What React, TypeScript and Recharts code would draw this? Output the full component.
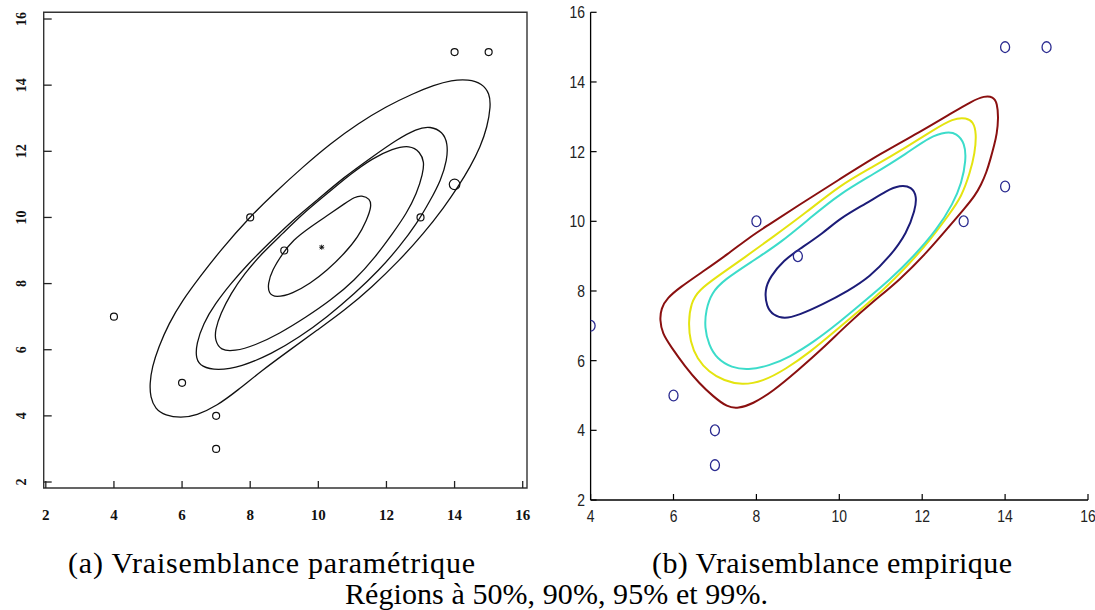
import React from 'react';
import { ComposedChart, Line, Scatter, XAxis, YAxis, ReferenceArea } from 'recharts';

// ---------- data ----------
const obsX = [4, 6, 7, 7, 8, 9, 13, 14, 14, 15];
const obsY = [7, 5, 4, 3, 10, 9, 10, 11, 15, 15];
const meanX = [10.1];
const meanY = [9.1];

const leftXTicks = [2, 4, 6, 8, 10, 12, 14, 16];
const leftYTicks = [2, 4, 6, 8, 10, 12, 14, 16];
const rightXTicks = [4, 6, 8, 10, 12, 14, 16];
const rightYTicks = [2, 4, 6, 8, 10, 12, 14, 16];

// (a) parametric likelihood regions 50/90/95/99 %
const param50: number[][] = [[11.27,10.67],[11.52,10.57],[11.56,10.32],[11.42,9.92],[11.17,9.41],[10.77,8.91],[10.26,8.40],[9.76,8.00],[9.25,7.70],[8.74,7.57],[8.54,7.70],[8.52,8.00],[8.64,8.40],[8.95,8.91],[9.25,9.31],[9.76,9.71],[10.36,10.12],[10.77,10.42],[11.07,10.62]];
const param90: number[][] = [[12.18,12.08],[12.69,12.19],[12.99,11.98],[13.11,11.68],[13.07,11.33],[12.89,10.72],[12.59,10.12],[12.18,9.51],[11.68,8.81],[11.07,8.10],[10.36,7.49],[9.65,6.99],[8.85,6.48],[8.14,6.13],[7.53,5.95],[7.13,5.98],[6.97,6.28],[6.97,6.59],[7.13,7.09],[7.43,7.70],[7.83,8.30],[8.34,8.91],[8.95,9.51],[9.55,10.12],[10.26,10.72],[10.97,11.33],[11.58,11.78]];
const param95: number[][] = [[12.89,12.69],[13.29,12.76],[13.65,12.59],[13.80,12.24],[13.78,11.73],[13.60,11.13],[13.29,10.52],[12.89,9.81],[12.38,9.11],[11.78,8.40],[11.07,7.70],[10.26,6.99],[9.45,6.38],[8.64,5.88],[7.73,5.48],[7.03,5.37],[6.57,5.48],[6.40,5.73],[6.42,6.18],[6.62,6.79],[6.97,7.39],[7.43,8.00],[7.94,8.60],[8.54,9.21],[9.25,9.92],[9.96,10.52],[10.77,11.23],[11.58,11.83],[12.28,12.34]];
const param99: number[][] = [[14.41,14.18],[14.81,14.05],[15.03,13.75],[15.06,13.35],[14.96,12.74],[14.76,12.14],[14.46,11.53],[14.10,10.92],[13.70,10.32],[13.09,9.51],[12.38,8.70],[11.58,7.90],[10.77,7.19],[9.96,6.59],[9.15,5.98],[8.34,5.37],[7.63,4.77],[7.03,4.31],[6.42,4.01],[5.96,3.94],[5.51,4.01],[5.21,4.21],[5.07,4.57],[5.05,4.97],[5.12,5.48],[5.31,6.08],[5.61,6.79],[6.01,7.49],[6.52,8.20],[7.13,9.01],[7.99,10.02],[8.74,10.77],[9.55,11.53],[10.36,12.24],[11.17,12.84],[11.98,13.35],[12.79,13.75],[13.40,14.00],[13.90,14.15]];

// (b) empirical likelihood regions 50/90/95/99 %
const emp50: number[][] = [[11.46,11.04],[11.75,10.99],[11.87,10.71],[11.83,10.33],[11.63,9.66],[11.22,8.99],[10.74,8.41],[10.21,8.0],[9.61,7.62],[9.01,7.3],[8.67,7.2],[8.41,7.3],[8.24,7.55],[8.2,8.03],[8.33,8.41],[8.67,8.89],[9.01,9.18],[9.61,9.66],[10.02,10.09],[10.66,10.52],[11.14,10.88]];
const emp90: number[][] = [[12.59,12.57],[12.83,12.53],[13.03,12.24],[13.06,11.76],[12.95,11.09],[12.75,10.52],[12.35,9.75],[11.79,8.99],[11.22,8.32],[10.6,7.7],[10.0,7.1],[9.4,6.55],[8.8,6.1],[8.3,5.85],[7.8,5.73],[7.4,5.8],[7.05,6.05],[6.85,6.45],[6.75,6.95],[6.78,7.45],[6.92,7.95],[7.22,8.32],[7.9,8.85],[8.6,9.4],[9.3,10.1],[10.02,10.8],[10.82,11.35],[11.63,11.95],[12.19,12.43]];
const emp95: number[][] = [[12.75,12.96],[13.07,12.97],[13.23,12.86],[13.31,12.53],[13.27,11.95],[13.15,11.38],[12.95,10.71],[12.67,10.23],[12.19,9.46],[11.63,8.70],[11.06,8.03],[10.5,7.45],[9.9,6.85],[9.3,6.25],[8.7,5.75],[8.15,5.4],[7.65,5.3],[7.22,5.42],[6.85,5.68],[6.57,6.05],[6.4,6.55],[6.36,7.1],[6.42,7.65],[6.6,8.02],[7.1,8.45],[7.7,8.95],[8.4,9.55],[9.2,10.25],[10.02,11.04],[10.82,11.57],[11.63,12.14],[12.27,12.62]];
const emp99: number[][] = [[13.5,13.6],[13.71,13.58],[13.81,13.4],[13.84,12.95],[13.8,12.5],[13.74,12.2],[13.65,11.8],[13.55,11.4],[13.42,11.05],[13.28,10.75],[13.03,10.38],[12.67,9.88],[12.11,9.1],[11.46,8.32],[10.82,7.7],[10.2,7.05],[9.6,6.35],[9.0,5.72],[8.4,5.12],[7.9,4.75],[7.56,4.63],[7.3,4.66],[6.96,4.97],[6.62,5.35],[6.28,5.83],[5.94,6.4],[5.73,6.78],[5.67,7.17],[5.7,7.5],[5.85,7.8],[6.15,8.1],[6.7,8.55],[7.3,9.05],[7.9,9.6],[8.3,9.9],[9.0,10.45],[10.0,11.2],[11.0,11.95],[12.0,12.6],[12.7,13.1],[13.2,13.45]];

const captionA = '(a) Vraisemblance paramétrique';
const captionB = '(b) Vraisemblance empirique';
const captionMain = 'Régions à 50%, 90%, 95% et 99%.';

// ---------- helpers ----------
const toPts = (arr: number[][]) => arr.map(([x, y]) => ({ x, y }));
const observations = obsX.map((x, i) => ({ x, y: obsY[i] }));
const meanPts = meanX.map((x, i) => ({ x, y: meanY[i] }));

const LEFT_X_DOMAIN: [number, number] = [1.938, 16.126];
const LEFT_Y_DOMAIN: [number, number] = [1.819, 16.203];

const serif = '"Liberation Serif", "Times New Roman", serif';
const sans = '"Liberation Sans", Arial, sans-serif';

const LeftXTick = (p: any) => (
  <g>
    <line x1={p.x} y1={p.y} x2={p.x} y2={p.y - 7} stroke="#222" strokeWidth={1.3} />
    <text x={p.x} y={p.y + 32} textAnchor="middle" fontFamily={serif} fontWeight="bold" fontSize={15} fill="#111">
      {p.payload.value}
    </text>
  </g>
);

const LeftYTick = (p: any) => (
  <g>
    <line x1={p.x} y1={p.y} x2={p.x + 8} y2={p.y} stroke="#222" strokeWidth={1.3} />
    <text
      transform={`translate(${p.x - 17.5},${p.y}) rotate(-90)`}
      textAnchor="middle"
      fontFamily={serif}
      fontWeight="bold"
      fontSize={14}
      fill="#111"
    >
      {p.payload.value}
    </text>
  </g>
);

const RightXTick = (p: any) => (
  <g>
    <line x1={p.x} y1={p.y} x2={p.x} y2={p.y - 6} stroke="#000" strokeWidth={1.2} />
    <text
      transform={`translate(${p.x},${p.y + 22}) scale(0.82,1)`}
      textAnchor="middle"
      fontFamily={sans}
      fontSize={17}
      fill="#222"
    >
      {p.payload.value}
    </text>
  </g>
);

const RightYTick = (p: any) => (
  <g>
    <line x1={p.x} y1={p.y} x2={p.x + 6} y2={p.y} stroke="#000" strokeWidth={1.2} />
    <text
      transform={`translate(${p.x - 5.5},${p.y + 6}) scale(0.82,1)`}
      textAnchor="end"
      fontFamily={sans}
      fontSize={17}
      fill="#222"
    >
      {p.payload.value}
    </text>
  </g>
);

const LeftDot = (p: any) => {
  const big = p.payload && p.payload.x === 14 && p.payload.y === 11;
  return <circle cx={p.cx} cy={p.cy} r={big ? 5.3 : 3.5} fill="none" stroke="#111" strokeWidth={1.2} />;
};

const StarMark = (p: any) => (
  <g stroke="#111" strokeWidth={1}>
    <line x1={p.cx - 2.5} y1={p.cy} x2={p.cx + 2.5} y2={p.cy} />
    <line x1={p.cx} y1={p.cy - 2.5} x2={p.cx} y2={p.cy + 2.5} />
    <line x1={p.cx - 2} y1={p.cy - 2} x2={p.cx + 2} y2={p.cy + 2} />
    <line x1={p.cx - 2} y1={p.cy + 2} x2={p.cx + 2} y2={p.cy - 2} />
  </g>
);

const RightDot = (p: any) => (
  <ellipse cx={p.cx} cy={p.cy} rx={4.5} ry={5.4} fill="none" stroke="#2b2b90" strokeWidth={1.3} />
);

const contourLine = (arr: number[][], color: string, width: number, key: string) => (
  <Line
    key={key}
    data={toPts(arr)}
    dataKey="y"
    type="basisClosed"
    stroke={color}
    strokeWidth={width}
    dot={false}
    activeDot={false}
    isAnimationActive={false}
    legendType="none"
  />
);

export default function App() {
  return (
    <div style={{ position: 'absolute', left: 0, top: 0, width: 1095, height: 610, background: '#fff', overflow: 'hidden' }}>
      <div style={{ position: 'absolute', left: 0, top: 0 }}>
        <ComposedChart width={540} height={540} margin={{ top: 12.3, right: 13, bottom: 0, left: 0 }}>
          <XAxis
            dataKey="x"
            type="number"
            domain={LEFT_X_DOMAIN}
            ticks={leftXTicks}
            allowDataOverflow
            height={52}
            axisLine={false}
            tickLine={false}
            tickSize={0}
            tickMargin={0}
            tick={LeftXTick}
            interval={0}
          />
          <YAxis
            dataKey="y"
            type="number"
            domain={LEFT_Y_DOMAIN}
            ticks={leftYTicks}
            allowDataOverflow
            width={43.7}
            axisLine={false}
            tickLine={false}
            tickSize={0}
            tickMargin={0}
            tick={LeftYTick}
            interval={0}
          />
          <ReferenceArea
            x1={LEFT_X_DOMAIN[0]}
            x2={LEFT_X_DOMAIN[1]}
            y1={LEFT_Y_DOMAIN[0]}
            y2={LEFT_Y_DOMAIN[1]}
            fill="none"
            fillOpacity={0}
            stroke="#333"
            strokeWidth={1.4}
            ifOverflow="visible"
          />
          {contourLine(param99, '#111', 1.3, 'p99')}
          {contourLine(param95, '#111', 1.3, 'p95')}
          {contourLine(param90, '#111', 1.3, 'p90')}
          {contourLine(param50, '#111', 1.3, 'p50')}
          <Scatter data={observations} dataKey="y" shape={LeftDot} isAnimationActive={false} legendType="none" />
          <Scatter data={meanPts} dataKey="y" shape={StarMark} isAnimationActive={false} legendType="none" />
        </ComposedChart>
      </div>
      <div style={{ position: 'absolute', left: 540, top: 0 }}>
        <ComposedChart width={555} height={540} margin={{ top: 12.3, right: 7, bottom: 0, left: 0 }}>
          <XAxis
            dataKey="x"
            type="number"
            domain={[4, 16]}
            ticks={rightXTicks}
            allowDataOverflow
            height={40}
            axisLine={{ stroke: '#000', strokeWidth: 1.3 }}
            tickLine={false}
            tickSize={0}
            tickMargin={0}
            tick={RightXTick}
            interval={0}
          />
          <YAxis
            dataKey="y"
            type="number"
            domain={[2, 16]}
            ticks={rightYTicks}
            allowDataOverflow
            width={50.6}
            axisLine={{ stroke: '#000', strokeWidth: 1.3 }}
            tickLine={false}
            tickSize={0}
            tickMargin={0}
            tick={RightYTick}
            interval={0}
          />
          {contourLine(emp99, '#8a1010', 2, 'e99')}
          {contourLine(emp95, '#e4e410', 2, 'e95')}
          {contourLine(emp90, '#3cdcca', 2, 'e90')}
          {contourLine(emp50, '#1c1c78', 2, 'e50')}
          <Scatter data={observations} dataKey="y" shape={RightDot} isAnimationActive={false} legendType="none" />
        </ComposedChart>
      </div>
      <svg width={1095} height={610} style={{ position: 'absolute', left: 0, top: 0, pointerEvents: 'none' }}>
        <text x={68} y={573} fontFamily={serif} fontSize={30} textLength={407} lengthAdjust="spacing" fill="#000">
          {captionA}
        </text>
        <text x={652} y={573} fontFamily={serif} fontSize={30} textLength={360} lengthAdjust="spacing" fill="#000">
          {captionB}
        </text>
        <text x={345} y={604} fontFamily={serif} fontSize={30} textLength={423} lengthAdjust="spacing" fill="#000">
          {captionMain}
        </text>
      </svg>
    </div>
  );
}
